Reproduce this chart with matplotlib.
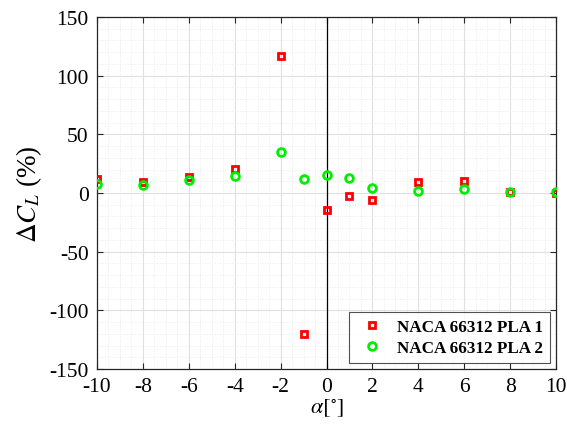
import matplotlib
matplotlib.use("Agg")
import matplotlib.pyplot as plt
from matplotlib.ticker import MultipleLocator

alpha = [-10, -8, -6, -4, -2, -1, 0, 1, 2, 4, 6, 8, 10]
dcl_pla1 = [12.1, 9.6, 13.5, 20.6, 116.4, -120.0, -14.1, -2.8, -6.2, 9.0, 9.9, 0.8, 0.2]
dcl_pla2 = [7.9, 6.8, 11.0, 14.7, 35.0, 11.6, 15.0, 12.4, 4.2, 1.4, 3.7, 0.8, 0.5]
labels = ["NACA 66312 PLA 1", "NACA 66312 PLA 2"]
xticks = [-10, -8, -6, -4, -2, 0, 2, 4, 6, 8, 10]
yticks = [-150, -100, -50, 0, 50, 100, 150]

plt.rcParams['font.family'] = ['Liberation Serif', 'DejaVu Serif']
plt.rcParams['mathtext.fontset'] = 'stix'
plt.rcParams['axes.unicode_minus'] = False

fig = plt.figure(figsize=(5.67, 4.35), dpi=100)
ax = fig.add_axes([97/567, 1-370/435, (556-97)/567, (370-18)/435])

ax.axvline(0, color='black', lw=0.9, zorder=1)

ax.plot(alpha, dcl_pla1, linestyle='none', marker='s', markersize=4.2,
        markerfacecolor='none', markeredgecolor='#ff0000', markeredgewidth=2.0,
        label=labels[0], zorder=3)
ax.plot(alpha, dcl_pla2, linestyle='none', marker='o', markersize=5.6,
        markerfacecolor='none', markeredgecolor='#00ee00', markeredgewidth=2.0,
        label=labels[1], zorder=4)

ax.set_xlim(-10, 10)
ax.set_ylim(-150, 150)
ax.set_xticks(xticks)
ax.set_yticks(yticks)
ax.xaxis.set_minor_locator(MultipleLocator(0.5))
ax.yaxis.set_minor_locator(MultipleLocator(10))
ax.grid(which='major', color='#e0e0e0', lw=0.8)
ax.grid(which='minor', color='#e6e6e6', lw=0.6, linestyle=(0, (1, 2)))
ax.set_axisbelow(True)

ax.tick_params(which='major', direction='in', top=True, right=True, length=4,
               labelsize=15.5, color='#262626', pad=6)
ax.tick_params(which='minor', length=0)
for s in ax.spines.values():
    s.set_color('#262626')
    s.set_linewidth(0.9)

ax.set_xlabel(r'$\alpha[^{\circ}]$', fontsize=16, labelpad=0)
ax.set_ylabel(r'$\Delta C_L$ (%)', fontsize=19.5, labelpad=4)

leg = ax.legend(loc='lower right', prop={'weight': 'bold', 'size': 12.3},
                frameon=True, fancybox=False, edgecolor='#262626',
                borderaxespad=0.35, handletextpad=0.5, handlelength=1.9,
                borderpad=0.4, labelspacing=0.3)
leg.get_frame().set_linewidth(0.8)

fig.savefig('out.png', dpi=100)
